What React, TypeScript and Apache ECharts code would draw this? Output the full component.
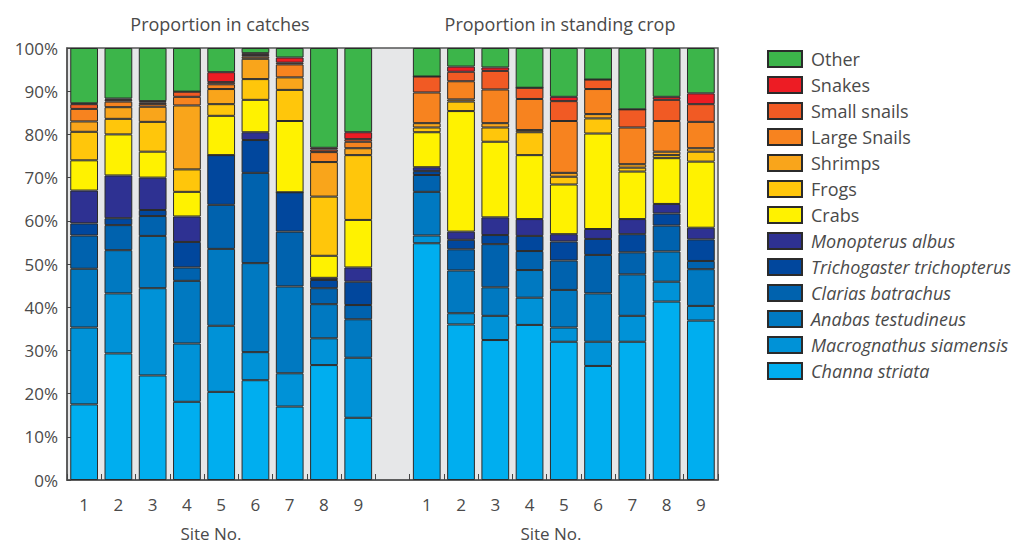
import React, { useEffect, useRef } from "react";
import * as echarts from "echarts";

// Site labels
const sites = ["1", "2", "3", "4", "5", "6", "7", "8", "9"];
const yTicks = [0, 10, 20, 30, 40, 50, 60, 70, 80, 90, 100];

// Species / groups (bottom to top of the stack)
const groups = [
  "Channa striata",
  "Macrognathus siamensis",
  "Anabas testudineus",
  "Clarias batrachus",
  "Trichogaster trichopterus",
  "Monopterus albus",
  "Crabs",
  "Frogs",
  "Shrimps",
  "Large Snails",
  "Small snails",
  "Snakes",
  "Other",
];
const italicGroups = [
  "Channa striata",
  "Macrognathus siamensis",
  "Anabas testudineus",
  "Clarias batrachus",
  "Trichogaster trichopterus",
  "Monopterus albus",
];
const colors = [
  "#00aeef",
  "#0092d7",
  "#0079c1",
  "#0062ae",
  "#01479d",
  "#2e3192",
  "#fff200",
  "#ffc60b",
  "#f9a51b",
  "#f7831f",
  "#f15a24",
  "#ed1c24",
  "#3cb54a",
];

// Proportion in catches (%), sites 1..9
const catchChanna = [17.5, 29.3, 24.2, 18.1, 20.4, 23.1, 17.0, 26.6, 14.4];
const catchMacro = [17.8, 13.9, 20.2, 13.5, 15.3, 6.5, 7.7, 6.2, 13.9];
const catchAnabas = [13.6, 10.0, 12.1, 14.5, 17.8, 20.6, 20.1, 7.9, 8.9];
const catchClarias = [7.7, 5.8, 4.6, 3.1, 10.2, 20.9, 12.7, 3.7, 3.3];
const catchTricho = [2.8, 1.6, 1.4, 5.9, 11.5, 7.6, 9.1, 1.9, 5.4];
const catchMono = [7.6, 9.9, 7.5, 5.9, 0, 1.8, 0, 0.5, 3.3];
const catchCrabs = [7.0, 9.5, 6.0, 5.7, 9.1, 7.5, 16.5, 5.1, 11.0];
const catchFrogs = [6.6, 3.6, 6.9, 5.2, 2.7, 4.8, 7.2, 13.7, 15.0];
const catchShrimps = [2.4, 2.7, 3.5, 14.8, 3.5, 4.7, 2.9, 8.0, 1.6];
const catchLargeSnails = [2.9, 1.3, 0.6, 2.0, 1.1, 0.5, 3.0, 2.3, 1.5];
const catchSmallSnails = [1.1, 0.4, 0.4, 1.2, 0.5, 0.4, 0.4, 0.6, 0.6];
const catchSnakes = [0.2, 0.3, 0.3, 0, 2.3, 0.4, 1.2, 0.4, 1.6];
const catchOther = [12.8, 11.7, 12.3, 10.1, 5.6, 1.2, 2.2, 23.1, 19.5];

// Proportion in standing crop (%), sites 1..9
const cropChanna = [54.8, 36.0, 32.4, 35.9, 32.0, 26.4, 32.0, 41.3, 36.9];
const cropMacro = [1.8, 2.6, 5.6, 6.3, 3.3, 5.6, 6.0, 4.6, 3.4];
const cropAnabas = [10.1, 9.9, 6.6, 6.4, 8.7, 11.2, 9.6, 7.0, 8.5];
const cropClarias = [3.9, 4.9, 10.0, 4.4, 6.8, 8.9, 5.1, 6.0, 1.9];
const cropTricho = [0.9, 2.2, 2.1, 3.5, 4.4, 3.7, 4.2, 2.8, 5.0];
const cropMono = [0.9, 1.9, 4.1, 3.9, 1.7, 2.3, 3.5, 2.2, 2.7];
const cropCrabs = [8.1, 27.9, 17.5, 14.8, 11.5, 22.1, 11.0, 10.6, 15.3];
const cropFrogs = [1.1, 2.2, 3.3, 5.3, 1.8, 3.5, 0.9, 0.7, 2.3];
const cropShrimps = [1.0, 0.5, 1.0, 0.5, 0.9, 1.0, 0.8, 0.8, 0.8];
const cropLargeSnails = [7.1, 4.2, 7.8, 7.2, 12.0, 5.8, 8.5, 7.1, 6.1];
const cropSmallSnails = [3.7, 2.2, 4.3, 2.6, 4.6, 2.2, 4.2, 4.9, 4.1];
const cropSnakes = [0, 1.2, 0.8, 0, 1.0, 0, 0, 0.7, 2.5];
const cropOther = [6.6, 4.3, 4.5, 9.2, 11.3, 7.3, 14.2, 11.3, 10.5];

const catchSeries = [
  catchChanna, catchMacro, catchAnabas, catchClarias, catchTricho, catchMono,
  catchCrabs, catchFrogs, catchShrimps, catchLargeSnails, catchSmallSnails, catchSnakes, catchOther,
];
const cropSeries = [
  cropChanna, cropMacro, cropAnabas, cropClarias, cropTricho, cropMono,
  cropCrabs, cropFrogs, cropShrimps, cropLargeSnails, cropSmallSnails, cropSnakes, cropOther,
];

const panelTitles = ["Proportion in catches", "Proportion in standing crop"];
const xTitle = "Site No.";

const FONT = "'Open Sans', 'Noto Sans', sans-serif";
const TEXT = "#4a4a4a";

export default function App() {
  const ref = useRef<HTMLDivElement>(null);

  useEffect(() => {
    document.body.style.margin = "0";
    if (!ref.current) return;
    const chart = echarts.init(ref.current, undefined, { renderer: "svg" });

    const categories = [
      ...sites.map((s) => "A" + s),
      "gap",
      ...sites.map((s) => "B" + s),
    ];

    const series = groups.map((name, i) => ({
      name,
      type: "bar",
      stack: "total",
      barWidth: "81%",
      data: [...catchSeries[i], "-", ...cropSeries[i]],
      itemStyle: { color: colors[i], borderColor: "#2b2b2b", borderWidth: 1 },
      emphasis: { disabled: true },
    }));

    const option: any = {
      animation: false,
      textStyle: { fontFamily: FONT },
      grid: {
        left: 67,
        right: 296,
        top: 48,
        bottom: 65,
        show: true,
        backgroundColor: "#e6e7e8",
        borderColor: "#555",
        borderWidth: 1.5,
      },
      xAxis: {
        type: "category",
        data: categories,
        axisLine: { lineStyle: { color: "#555", width: 1.5 } },
        axisTick: { show: true, inside: true, length: 6, lineStyle: { color: "#444" } },
        axisLabel: {
          formatter: (v: string) => (v === "gap" ? "" : v.slice(1)),
          fontSize: 17,
          color: TEXT,
          margin: 16,
          fontFamily: FONT,
        },
      },
      yAxis: {
        type: "value",
        min: yTicks[0],
        max: yTicks[yTicks.length - 1],
        interval: 10,
        axisLine: { show: true, lineStyle: { color: "#555", width: 1.5 } },
        axisTick: { show: true, inside: true, length: 4, lineStyle: { color: "#444" } },
        splitLine: { show: false },
        axisLabel: {
          formatter: "{value}%",
          fontSize: 17,
          color: TEXT,
          margin: 9,
          fontFamily: FONT,
        },
      },
      legend: {
        orient: "vertical",
        left: 762,
        top: 45,
        itemWidth: 34,
        itemHeight: 16,
        itemGap: 8,
        icon: "rect",
        selectedMode: false,
        data: [...groups].reverse(),
        formatter: (name: string) =>
          italicGroups.includes(name) ? `{i|${name}}` : `{n|${name}}`,
        textStyle: {
          fontSize: 18,
          color: TEXT,
          fontFamily: FONT,
          rich: {
            i: { fontStyle: "italic", fontSize: 18, color: TEXT, fontFamily: FONT, padding: [0, 0, 0, 4], lineHeight: 16 },
            n: { fontSize: 18, color: TEXT, fontFamily: FONT, padding: [0, 0, 0, 4], lineHeight: 16 },
          },
        },
      },
      graphic: [
        {
          type: "text",
          x: 220,
          y: 24,
          style: { text: panelTitles[0], fontSize: 18, fill: TEXT, fontFamily: FONT, align: "center", verticalAlign: "middle" },
        },
        {
          type: "text",
          x: 560,
          y: 24,
          style: { text: panelTitles[1], fontSize: 18, fill: TEXT, fontFamily: FONT, align: "center", verticalAlign: "middle" },
        },
        {
          type: "text",
          x: 211,
          y: 533,
          style: { text: xTitle, fontSize: 17, fill: TEXT, fontFamily: FONT, align: "center", verticalAlign: "middle" },
        },
        {
          type: "text",
          x: 551,
          y: 533,
          style: { text: xTitle, fontSize: 17, fill: TEXT, fontFamily: FONT, align: "center", verticalAlign: "middle" },
        },
      ],
      series,
    };

    chart.setOption(option);
    return () => chart.dispose();
  }, []);

  return <div ref={ref} style={{ width: 1014, height: 545 }} />;
}
